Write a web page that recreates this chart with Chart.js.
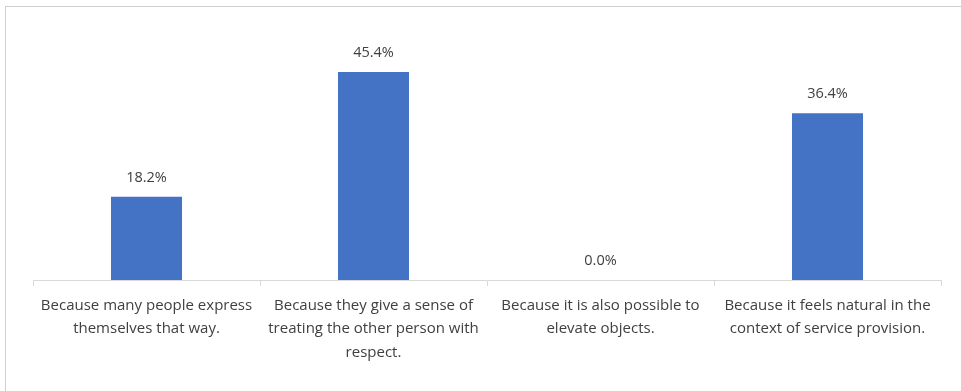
<!DOCTYPE html>
<html>
<head>
<meta charset="utf-8">
<script src="https://cdn.jsdelivr.net/npm/chart.js@4/dist/chart.umd.min.js"></script>
<style>
  html, body { margin: 0; padding: 0; background: #fff; }
  #wrap { position: relative; width: 961px; height: 391px; overflow: hidden; }
  #frame { position: absolute; left: 5px; top: 6px; right: -2px; bottom: -2px;
           border-top: 1px solid #d0d0d0; border-left: 1px solid #d0d0d0; }
  #chart { position: absolute; left: 0; top: 0; }
</style>
</head>
<body>
<div id="wrap">
  <div id="frame"></div>
  <canvas id="chart" width="961" height="391"></canvas>
</div>
<script>
// ==== Data ====
const reasons = [
  ["Because many people express", "themselves that way."],
  ["Because they give a sense of", "treating the other person with", "respect."],
  ["Because it is also possible to", "elevate objects."],
  ["Because it feels natural in the", "context of service provision."]
];
const shares = [18.2, 45.4, 0.0, 36.4];

const FONT = "'Open Sans', 'Noto Sans', sans-serif";
const TEXT_COLOR = "#404040";

// value label above each bar
const barValueLabels = {
  id: 'barValueLabels',
  afterDatasetsDraw(chart) {
    const ctx = chart.ctx;
    const meta = chart.getDatasetMeta(0);
    ctx.save();
    ctx.font = "14.5px " + FONT;
    ctx.fillStyle = TEXT_COLOR;
    ctx.textAlign = "center";
    ctx.textBaseline = "middle";
    meta.data.forEach((bar, i) => {
      const v = chart.data.datasets[0].data[i];
      ctx.fillText(v.toFixed(1) + "%", bar.x, bar.y - 19);
    });
    ctx.restore();
  }
};

new Chart(document.getElementById('chart').getContext('2d'), {
  type: 'bar',
  data: {
    labels: reasons,
    datasets: [{
      data: shares,
      backgroundColor: '#4472C4',
      borderWidth: 0,
      categoryPercentage: 1,
      barPercentage: 0.313
    }]
  },
  options: {
    responsive: false,
    animation: false,
    layout: { padding: { left: 33, right: 20, top: 51, bottom: 0 } },
    plugins: { legend: { display: false }, tooltip: { enabled: false } },
    scales: {
      x: {
        offset: true,
        grid: {
          offset: true,
          drawOnChartArea: false,
          drawTicks: true,
          tickLength: 6,
          color: '#d9d9d9'
        },
        border: { color: '#d9d9d9', width: 1 },
        ticks: {
          padding: 8,
          maxRotation: 0,
          autoSkip: false,
          color: TEXT_COLOR,
          font: { family: FONT, size: 15, lineHeight: 1.56 }
        },
        afterFit(scale) { scale.height = 111; }
      },
      y: {
        display: false,
        min: 0,
        max: 50
      }
    }
  },
  plugins: [barValueLabels]
});
</script>
</body>
</html>
